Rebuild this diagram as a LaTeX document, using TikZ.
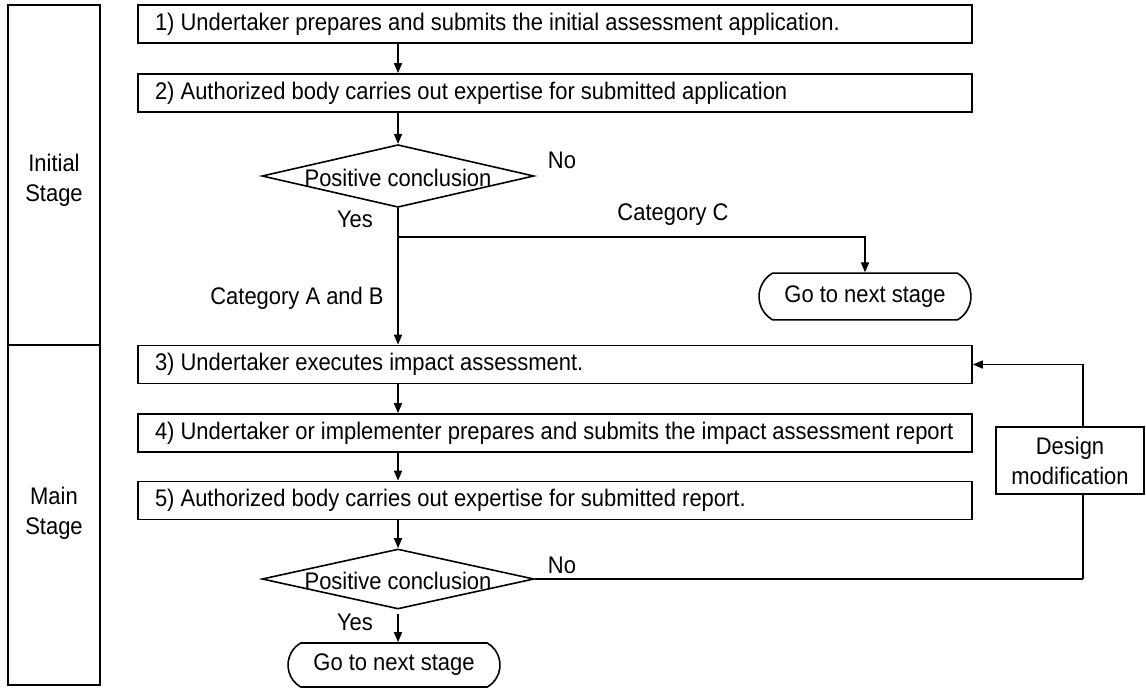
\documentclass[tikz,border=0pt]{standalone}
\usepackage{fontspec}
\setmainfont{Liberation Sans}[FakeStretch=0.915]
\usetikzlibrary{arrows.meta,shapes.geometric,shapes.misc}
\begin{document}
\begin{tikzpicture}[x=0.75pt,y=-0.75pt,
  every node/.style={font=\fontsize{18pt}{22.5pt}\selectfont, inner sep=0pt},
  conn/.style={line width=1.2pt},
  arr/.style={line width=1.2pt,-{Triangle[length=7.5pt,width=6pt]}},
  stepbox/.style={draw,line width=1.3pt,minimum width=625.5pt,minimum height=28.5pt,inner xsep=12.75pt},
  stagebox/.style={draw,line width=1.3pt,minimum width=69pt,minimum height=255pt},
  decision/.style={draw,diamond,line width=1.2pt,minimum width=204pt,minimum height=47pt},
  terminal/.style={draw,rounded rectangle,rounded rectangle arc length=120,line width=1.2pt,minimum width=159pt,minimum height=35pt},
  sidebox/.style={draw,fill=white,line width=1.3pt,align=center,minimum width=111pt,minimum height=50pt}
]
\useasboundingbox (0,0) rectangle (1146,688);

% stage column
\node[stagebox] (initial) at (54,175) {};
\node[stagebox] (main) at (54,515) {};
\node[align=center] (initialtxt) at (54,180) {Initial\\Stage};
\node[align=center] (maintxt) at (54,513) {Main\\Stage};

% process steps
\newcommand{\steptext}[1]{\makebox[600pt][l]{#1}}
\node[stepbox] (s1) at (555,24) {\steptext{1) Undertaker prepares and submits the initial assessment application.}};
\node[stepbox] (s2) at (555,93) {\steptext{2) Authorized body carries out expertise for submitted application}};
\node[stepbox] (s3) at (555,364.5) {\steptext{3) Undertaker executes impact assessment.}};
\node[stepbox] (s4) at (555,433) {\steptext{4) Undertaker or implementer prepares and submits the impact assessment report}};
\node[stepbox] (s5) at (555,500.5) {\steptext{5) Authorized body carries out expertise for submitted report.}};

% decisions
\node[decision] (d1) at (398,176) {};
\node (d1txt) at ([yshift=-1.5pt]d1.center) {Positive conclusion};
\node[decision,minimum height=45pt] (d2) at (398,579) {};
\node (d2txt) at ([yshift=-1.5pt]d2.center) {Positive conclusion};

% terminals
\node[terminal] (t1) at (865,296.5) {Go to next stage};
\node[terminal,minimum height=33pt] (t2) at (394,665) {Go to next stage};

% connectors
\coordinate (br) at (398,237);
\coordinate (fbx) at (1083,0);
\draw[arr] (d1 |- s1.south) -- (d1 |- s2.north);
\draw[arr] (d1 |- s2.south) -- (d1.north);
\draw[arr] (d1.south) -- (d1 |- s3.north);
\draw[arr] (br) -| (t1.north);
\draw[arr] (d1 |- s3.south) -- (d1 |- s4.north);
\draw[arr] (d1 |- s4.south) -- (d1 |- s5.north);
\draw[arr] (d1 |- s5.south) -- (d2.north);
\draw[arr] ([yshift=-3pt]d2.south) -- (d2.south |- t2.north);
\draw[conn] (d2.east) -- (d2.east -| fbx);
\draw[arr] (d2.east -| fbx) |- (s3.east);

% feedback box
\node[sidebox] (dm) at (1070,460.5) {Design\\modification};

% branch labels
\node (no1) at (562,160) {No};
\node (yes1) at (355,219) {Yes};
\node (catc) at (673,215) {Category C};
\node (catab) at (297,298) {Category A and B};
\node (no2) at (562,565) {No};
\node (yes2) at (355,622) {Yes};
\end{tikzpicture}
\end{document}
